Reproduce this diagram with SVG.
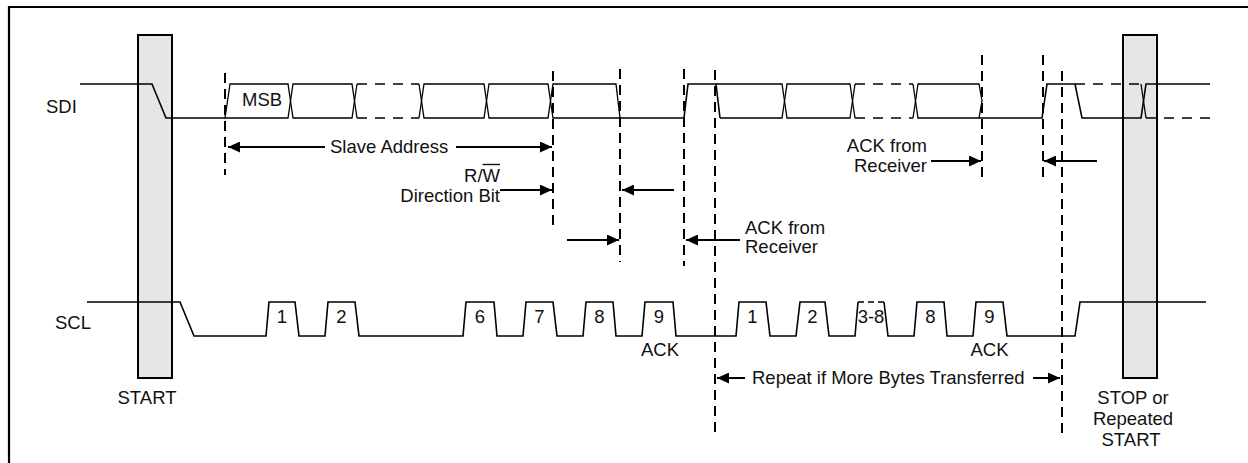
<svg xmlns="http://www.w3.org/2000/svg" width="1248" height="463" viewBox="0 0 1248 463">
<style>
  .sig{fill:none;stroke:#000;stroke-width:1.6;stroke-linejoin:miter}
  .cell{fill:none;stroke:#000;stroke-width:1.3}
  .dsh{fill:none;stroke:#000;stroke-width:1.6;stroke-dasharray:10 8}
  .guide{fill:none;stroke:#000;stroke-width:2;stroke-dasharray:10 6}
  .arr{fill:none;stroke:#000;stroke-width:2;marker-end:url(#ah)}
  .bar{fill:#e6e6e6;stroke:#000;stroke-width:2}
  text{font-family:"Liberation Sans",Arial,Helvetica,sans-serif;font-size:18.5px;fill:#111}
  .c{text-anchor:middle}
  .e{text-anchor:end}
</style>
<defs>
  <marker id="ah" viewBox="0 0 12 11" refX="12" refY="5.5" markerWidth="12" markerHeight="11" markerUnits="userSpaceOnUse" orient="auto">
    <path d="M0,0 L12,5.5 L0,11 Z" fill="#000"/>
  </marker>
</defs>
<rect width="1248" height="463" fill="#fff"/>
<g id="frame"><path d="M9,463 V7 H1248" fill="none" stroke="#000" stroke-width="2.2"/></g>

<g id="start-bar"><rect class="bar" x="138" y="35" width="34" height="343"/></g>
<g id="stop-bar"><rect class="bar" x="1123" y="35" width="34" height="343"/></g>

<g id="sdi">
  <path class="sig" d="M80,84 H152 L166,118 H225"/>
  <path class="cell" d="M225,118 L230,84 H288 L290.5,101 L288,118 Z"/>
  <path class="cell" d="M290.5,101 L293,84 H352 L354.5,101 L352,118 H293 Z"/>
  <path class="cell" d="M354.5,101 L357,84 M354.5,101 L357,118 M419,84 L421.5,101 L419,118"/>
  <path class="dsh" d="M357,84 H419 M357,118 H419"/>
  <path class="cell" d="M421.5,101 L424,84 H484 L486.5,101 L484,118 H424 Z"/>
  <path class="cell" d="M486.5,101 L489,84 H548 L550.5,101 L548,118 H489 Z"/>
  <path class="cell" d="M550.5,101 L553,84 H616 L620,118 H553 Z"/>
  <path class="sig" d="M620,118 H684 L688,84 H716 L720,118"/>
  <path class="cell" d="M716,84 H782 L784.5,101 L782,118 H720"/>
  <path class="cell" d="M784.5,101 L787,84 H850 L852.5,101 L850,118 H787 Z"/>
  <path class="cell" d="M852.5,101 L855,84 M852.5,101 L855,118 M913,84 L915.5,101 L913,118"/>
  <path class="dsh" d="M855,84 H913 M855,118 H913"/>
  <path class="cell" d="M915.5,101 L918,84 H979 L982,101 L979,118 H918 Z"/>
  <path class="sig" d="M979,118 H1042 L1047,84 H1075 L1082,118 H1141 L1146,84 H1210"/>
  <path class="dsh" d="M1075,84 H1141"/>
  <path class="cell" d="M1141,84 L1146,118"/>
  <path class="dsh" d="M1146,118 H1210"/>
</g>

<g id="scl">
  <path class="sig" d="M87,302 H180 L194,336 H266 L269,302 H295 L299,336 H325 L328,302 H355 L359,336 H463 L466,302 H494 L497,336 H523 L526,302 H553 L557,336 H583 L586,302 H613 L616,336 H642 L645,302 H673 L676,336 H736 L739,302 H766 L770,336 H796 L800,302 H825 L829,336 H855 L858,302"/>
  <path class="dsh" d="M858,302 H884" style="stroke-dasharray:6 4"/>
  <path class="sig" d="M884,302 L888,336 H914 L917,302 H944 L947,336 H973 L976,302 H1003 L1007,336 H1075 L1080,302 H1206"/>
</g>

<g id="guides">
  <path class="guide" d="M225,73 V175"/>
  <path class="guide" d="M553,71 V227"/>
  <path class="guide" d="M620,69 V262"/>
  <path class="guide" d="M684,69 V266"/>
  <path class="guide" d="M715,70 V435"/>
  <path class="guide" d="M982,55 V183"/>
  <path class="guide" d="M1043,55 V183"/>
  <path class="guide" d="M1062,71 V435"/>
</g>

<g id="connectors">
  <path class="arr" d="M325,147 H228"/>
  <path class="arr" d="M456,147 H552"/>
  <path class="arr" d="M500,190 H552"/>
  <path class="arr" d="M674,190 H622"/>
  <path class="arr" d="M567,240 H619"/>
  <path class="arr" d="M740,240 H686"/>
  <path class="arr" d="M931,161 H981"/>
  <path class="arr" d="M1097,161 H1044"/>
  <path class="arr" d="M745,378 H717"/>
  <path class="arr" d="M1033,378 H1060"/>
</g>

<g id="labels">
  <text x="46" y="113">SDI</text>
  <text x="55" y="329">SCL</text>
  <text x="242" y="106">MSB</text>
  <text x="330" y="153">Slave Address</text>
  <text class="e" x="500" y="182">R/W</text>
  <line x1="482.5" y1="164.5" x2="500" y2="164.5" stroke="#111" stroke-width="1.4"/>
  <text class="e" x="500" y="202">Direction Bit</text>
  <text x="745" y="234">ACK from</text>
  <text x="745" y="253">Receiver</text>
  <text class="e" x="927" y="152">ACK from</text>
  <text class="e" x="927" y="172">Receiver</text>
  <text class="c" x="282" y="323">1</text>
  <text class="c" x="341.5" y="323">2</text>
  <text class="c" x="480" y="323">6</text>
  <text class="c" x="539.5" y="323">7</text>
  <text class="c" x="599.5" y="323">8</text>
  <text class="c" x="659" y="323">9</text>
  <text class="c" x="752.5" y="323">1</text>
  <text class="c" x="812.5" y="323">2</text>
  <text class="c" x="871" y="323">3-8</text>
  <text class="c" x="930.5" y="323">8</text>
  <text class="c" x="989.5" y="323">9</text>
  <text class="c" x="660" y="356">ACK</text>
  <text class="c" x="989.5" y="356">ACK</text>
  <text x="752" y="384">Repeat if More Bytes Transferred</text>
  <text class="c" x="147" y="404">START</text>
  <text class="c" x="1133" y="404">STOP or</text>
  <text class="c" x="1133" y="425">Repeated</text>
  <text class="c" x="1131" y="446">START</text>
</g>
</svg>
